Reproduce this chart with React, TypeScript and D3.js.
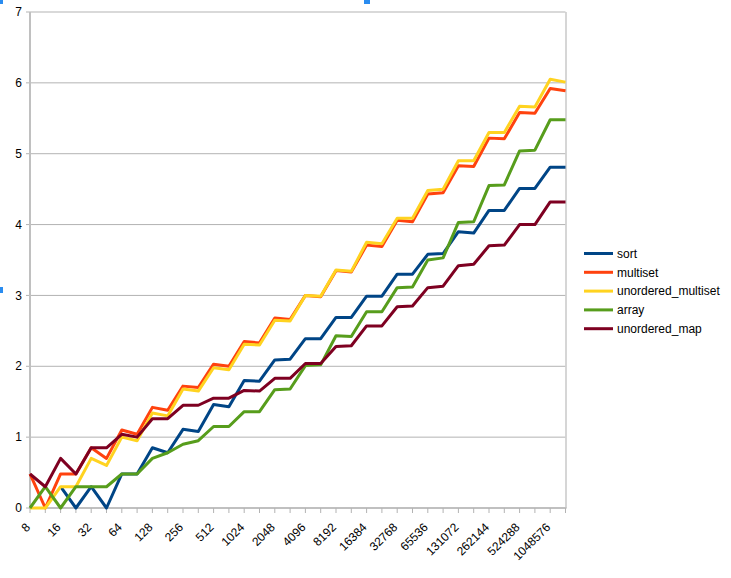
import React from "react";
import * as d3 from "d3";

// category sizes (only every other label is shown, like the original)
const categories = [
  8, 11, 16, 23, 32, 45, 64, 91, 128, 181, 256, 362, 512, 724, 1024, 1448,
  2048, 2896, 4096, 5793, 8192, 11585, 16384, 23170, 32768, 46341, 65536,
  92682, 131072, 185364, 262144, 370728, 524288, 741455, 1048576, 1482910,
];

const sortVals = [
  null, null, 0.3, 0, 0.3, 0, 0.48, 0.48, 0.85, 0.78, 1.11, 1.08, 1.46, 1.43,
  1.8, 1.79, 2.09, 2.1, 2.39, 2.39, 2.69, 2.69, 2.99, 2.99, 3.3, 3.3, 3.58,
  3.59, 3.9, 3.88, 4.2, 4.2, 4.51, 4.51, 4.81, 4.81,
];
const multisetVals = [
  0.48, 0, 0.48, 0.48, 0.85, 0.7, 1.1, 1.04, 1.42, 1.38, 1.72, 1.7, 2.03, 2.0,
  2.35, 2.33, 2.68, 2.66, 3.0, 2.98, 3.35, 3.33, 3.71, 3.69, 4.06, 4.04, 4.43,
  4.45, 4.83, 4.82, 5.22, 5.21, 5.58, 5.57, 5.92, 5.89,
];
const unorderedMultisetVals = [
  0, 0, 0.3, 0.3, 0.7, 0.6, 1.0, 0.95, 1.34, 1.3, 1.68, 1.65, 1.98, 1.95, 2.31,
  2.3, 2.65, 2.64, 3.0, 2.99, 3.36, 3.34, 3.75, 3.73, 4.09, 4.09, 4.48, 4.5,
  4.9, 4.9, 5.3, 5.3, 5.67, 5.66, 6.05, 6.01,
];
const arrayVals = [
  0, 0.3, 0, 0.3, 0.3, 0.3, 0.48, 0.48, 0.7, 0.78, 0.9, 0.95, 1.15, 1.15, 1.36,
  1.36, 1.67, 1.68, 2.01, 2.02, 2.43, 2.42, 2.77, 2.77, 3.11, 3.12, 3.5, 3.53,
  4.03, 4.04, 4.55, 4.56, 5.04, 5.05, 5.48, 5.48,
];
const unorderedMapVals = [
  0.48, 0.3, 0.7, 0.48, 0.85, 0.85, 1.04, 1.0, 1.26, 1.26, 1.45, 1.45, 1.55,
  1.55, 1.66, 1.65, 1.83, 1.83, 2.04, 2.04, 2.28, 2.29, 2.57, 2.57, 2.84, 2.85,
  3.11, 3.13, 3.42, 3.44, 3.7, 3.71, 4.0, 4.0, 4.32, 4.32,
];

const seriesNames = ["sort", "multiset", "unordered_multiset", "array", "unordered_map"];
const seriesColors = ["#004586", "#ff420e", "#ffd320", "#579d1c", "#7e0021"];
const seriesValues = [sortVals, multisetVals, unorderedMultisetVals, arrayVals, unorderedMapVals];

const yTicks = [0, 1, 2, 3, 4, 5, 6, 7];

const W = 731, H = 578;
const left = 30, right = 565.5, top = 12, bottom = 508;

export default function App() {
  const x = d3.scalePoint<number>().domain(d3.range(categories.length)).range([left, right]);
  const y = d3.scaleLinear().domain([0, 7]).range([bottom, top]);
  const line = d3
    .line<number | null>()
    .defined((d) => d != null)
    .x((_, i) => x(i) as number)
    .y((d) => y(d as number));

  const font = "'Liberation Sans', Arial, sans-serif";

  return (
    <svg
      width={W}
      height={H}
      style={{ position: "absolute", left: 0, top: 0, background: "#fff" }}
      fontFamily={font}
    >
      {/* grid */}
      {yTicks.map((t) => (
        <g key={t}>
          <line x1={left} x2={right} y1={y(t)} y2={y(t)} stroke="#b3b3b3" strokeWidth={1} />
          <line x1={left - 4} x2={left} y1={y(t)} y2={y(t)} stroke="#b3b3b3" strokeWidth={1} />
          <text x={left - 8} y={y(t)} dy="0.35em" textAnchor="end" fontSize={12} fill="#000">
            {t}
          </text>
        </g>
      ))}
      {/* axes and wall */}
      <line x1={left} x2={left} y1={top} y2={bottom + 1} stroke="#c0c0c0" strokeWidth={2} />
      <line x1={right + 0.5} x2={right + 0.5} y1={top} y2={bottom} stroke="#c8c8c8" strokeWidth={1.5} />
      <line x1={left} x2={right + 1} y1={bottom} y2={bottom} stroke="#c0c0c0" strokeWidth={2} />
      {categories.map((c, i) => (
        <line key={"t" + i} x1={x(i)} x2={x(i)} y1={bottom} y2={bottom + 5} stroke="#b3b3b3" strokeWidth={1} />
      ))}
      {categories.map((c, i) =>
        i % 2 === 0 ? (
          <text
            key={"l" + i}
            transform={`translate(${(x(i) as number) - 2},${bottom + 17}) rotate(-45)`}
            textAnchor="end"
            dy="0.35em"
            fontSize={12}
            fill="#000"
          >
            {c}
          </text>
        ) : null
      )}
      {/* series */}
      {seriesValues.map((vals, k) => (
        <path
          key={seriesNames[k]}
          d={line(vals) || ""}
          fill="none"
          stroke={seriesColors[k]}
          strokeWidth={3}
          strokeLinejoin="round"
        />
      ))}
      {/* legend */}
      {seriesNames.map((n, k) => {
        const ly = 253.5 + k * 18.8;
        return (
          <g key={"lg" + n}>
            <line x1={584} x2={613} y1={ly} y2={ly} stroke={seriesColors[k]} strokeWidth={3} />
            <text x={617} y={ly} dy="0.35em" fontSize={12} fill="#000">
              {n}
            </text>
          </g>
        );
      })}
      {/* selection handles */}
      <rect x={0} y={0} width={3} height={4} fill="#2a8cf0" />
      <rect x={364} y={0} width={6} height={4} fill="#2a8cf0" />
      <rect x={0} y={287} width={3} height={6} fill="#2a8cf0" />
    </svg>
  );
}
